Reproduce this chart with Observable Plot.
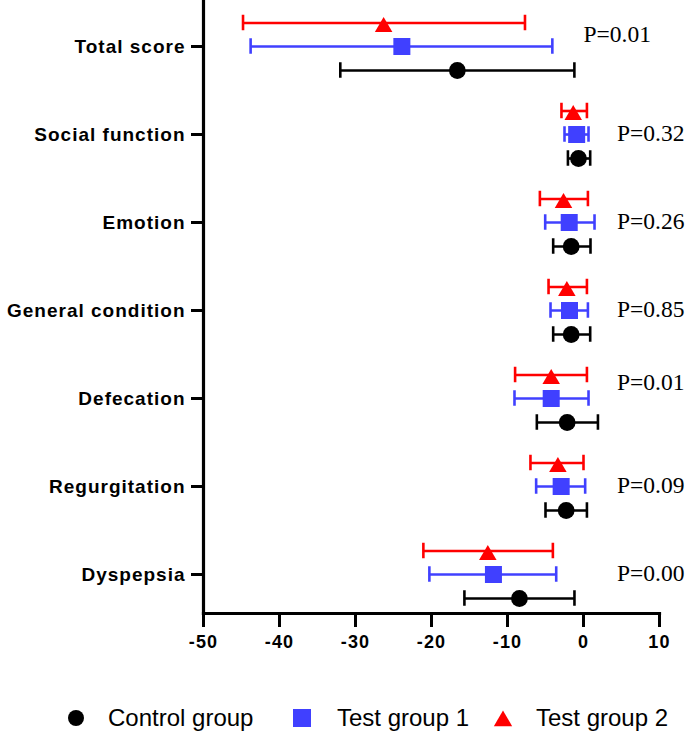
<!DOCTYPE html>
<html>
<head>
<meta charset="utf-8">
<script src="https://cdn.jsdelivr.net/npm/d3@7"></script>
<script src="https://cdn.jsdelivr.net/npm/@observablehq/plot@0.6"></script>
<style>
  body { margin: 0; background: #fff; }
  #chart svg { display: block; }
  [aria-label="y-axis tick label"] text { letter-spacing: 1px; }
  [aria-label="x-axis tick label"] text { letter-spacing: 1.2px; }
  #legend { position: relative; width: 685px; height: 71px; font-family: "Liberation Sans", Arial, sans-serif; font-size: 24px; color: #000; }
  #legend .item { position: absolute; top: 46px; display: flex; align-items: center; height: 24px; }
  #legend svg { display: block; }
</style>
</head>
<body>
<div id="chart"></div>
<div id="legend"></div>
<script>
// ---- data ----
const categories = ["Total score", "Social function", "Emotion", "General condition", "Defecation", "Regurgitation", "Dyspepsia"];
const groups = ["Control group", "Test group 1", "Test group 2"];

const controlMean = [-16.6, -0.66, -1.62, -1.62, -2.15, -2.28, -8.43];
const controlLow  = [-32.0, -2.05, -3.99, -3.99, -6.14, -5.0, -15.67];
const controlHigh = [-1.2, 0.88, 0.92, 0.88, 1.9, 0.45, -1.19];

const test1Mean = [-23.9, -0.9, -1.88, -1.84, -4.25, -2.94, -11.85];
const test1Low  = [-43.8, -2.5, -5.04, -4.34, -9.08, -6.23, -20.28];
const test1High = [-4.1, 0.66, 1.45, 0.58, 0.66, 0.22, -3.59];

const test2Mean = [-26.3, -1.35, -2.63, -2.19, -4.25, -3.37, -12.59];
const test2Low  = [-44.8, -2.9, -5.74, -4.6, -9.0, -6.98, -21.07];
const test2High = [-7.7, 0.45, 0.58, 0.45, 0.45, 0.0, -4.03];

const pValues = ["P=0.01", "P=0.32", "P=0.26", "P=0.85", "P=0.01", "P=0.09", "P=0.00"];
const xTicks = [-50, -40, -30, -20, -10, 0, 10];

// ---- tables ----
const means = [controlMean, test1Mean, test2Mean];
const lows = [controlLow, test1Low, test2Low];
const highs = [controlHigh, test1High, test2High];
const rows = [];
groups.forEach((g, gi) => categories.forEach((c, i) => rows.push({category: c, group: g, mean: means[gi][i], low: lows[gi][i], high: highs[gi][i]})));
const pRows = categories.map((c, i) => ({category: c, p: pValues[i]}));

// ---- styles ----
const groupStyle = {
  "Control group": {color: "#000000", symbol: "circle", r: 8.4, dy: 24, markDy: 24},
  "Test group 1": {color: "#4040ff", symbol: "square", r: 9.6, dy: 0, markDy: 0},
  "Test group 2": {color: "#ff0000", symbol: "triangle", r: 6.5, dy: -23.5, markDy: -19.5}
};
const capInset = (88.5 - 16) / 2;
const barWidth = 2.6;

const marks = [];
for (const g of groups) {
  const s = groupStyle[g];
  const data = rows.filter(d => d.group === g);
  marks.push(Plot.ruleY(data, {y: "category", x1: "low", x2: "high", stroke: s.color, strokeWidth: barWidth, dy: s.dy}));
  marks.push(Plot.tickX(data, {x: "low", y: "category", stroke: s.color, strokeWidth: barWidth, dy: s.dy, insetTop: capInset, insetBottom: capInset}));
  marks.push(Plot.tickX(data, {x: "high", y: "category", stroke: s.color, strokeWidth: barWidth, dy: s.dy, insetTop: capInset, insetBottom: capInset}));
}
for (const g of groups) {
  const s = groupStyle[g];
  const data = rows.filter(d => d.group === g);
  marks.push(Plot.dot(data, {x: "mean", y: "category", symbol: s.symbol, r: s.r, fill: s.color, stroke: "none", dy: s.markDy}));
}

const pFont = {textAnchor: "start", fontFamily: "'Liberation Serif', 'Times New Roman', serif", fontSize: 23.5, fill: "#000"};
marks.push(Plot.text(pRows, {filter: d => d.category === "Total score", x: 0.0, y: "category", text: "p", dy: -12, ...pFont}));
marks.push(Plot.text(pRows, {filter: d => d.category === "Defecation", x: 4.4, y: "category", text: "p", dy: -16, ...pFont}));
marks.push(Plot.text(pRows, {filter: d => d.category !== "Total score" && d.category !== "Defecation", x: 4.4, y: "category", text: "p", dy: -1, ...pFont}));

const chart = Plot.plot({
  width: 685,
  height: 660,
  marginLeft: 203,
  marginRight: 26,
  marginTop: 0,
  marginBottom: 47,
  style: {fontFamily: "'Liberation Sans', Arial, sans-serif", background: "#fff", color: "#000", overflow: "visible"},
  x: {domain: [-50, 10]},
  y: {type: "band", domain: categories, range: [-0.25, 619.25], padding: 0},
  marks: [
    Plot.axisX({ticks: xTicks, tickFormat: d => String(d), tickSize: 14, tickPadding: 8, strokeWidth: 3, fontSize: 18, fontWeight: "bold", fontFamily: "'Liberation Sans', Arial, sans-serif", label: null}),
    Plot.axisY({tickSize: 12, tickPadding: 6, strokeWidth: 3, fontSize: 19, fontWeight: "bold", fontFamily: "'Liberation Sans', Arial, sans-serif", label: null}),
    Plot.frame({anchor: "left", strokeWidth: 3.2, stroke: "#000"}),
    Plot.frame({anchor: "bottom", strokeWidth: 3.2, stroke: "#000"}),
    ...marks
  ]
});
document.getElementById("chart").appendChild(chart);

// ---- legend ----
const legend = document.getElementById("legend");
const legendItems = [
  {group: "Control group", left: 66, gap: 22},
  {group: "Test group 1", left: 292, gap: 25},
  {group: "Test group 2", left: 493, gap: 23}
];
for (const it of legendItems) {
  const s = groupStyle[it.group];
  const div = document.createElement("div");
  div.className = "item";
  div.style.left = it.left + "px";
  const sym = {circle: d3.symbolCircle, square: d3.symbolSquare, triangle: d3.symbolTriangle}[s.symbol];
  const size = {circle: Math.PI * 8 * 8, square: 18 * 18, triangle: Math.PI * 6.8 * 6.8}[s.symbol];
  const shift = s.symbol === "triangle" ? 3 : 0;
  div.innerHTML = `<svg width="20" height="24"><path transform="translate(10,${12 + shift})" d="${d3.symbol(sym, size)()}" fill="${s.color}"/></svg><span style="margin-left:${it.gap}px">${it.group}</span>`;
  legend.appendChild(div);
}
</script>
</body>
</html>
